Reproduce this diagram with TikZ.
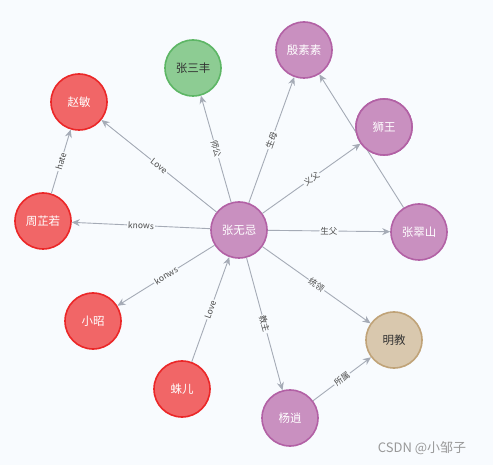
\documentclass[tikz,border=0pt]{standalone}
\usepackage{fontspec}
\setmainfont{Noto Sans CJK SC}
\usetikzlibrary{arrows.meta}
\definecolor{bg}{HTML}{F8FBFE}
\definecolor{edgec}{HTML}{A5ABB6}
\definecolor{purpf}{HTML}{C990C0}
\definecolor{purps}{HTML}{B261A5}
\definecolor{greenf}{HTML}{8DCC93}
\definecolor{greens}{HTML}{5DB665}
\definecolor{redf}{HTML}{F16667}
\definecolor{reds}{HTML}{EB2728}
\definecolor{tanf}{HTML}{D9C8AE}
\definecolor{tans}{HTML}{C0A378}
\tikzset{
  x=1pt,y=-1pt,
  ent/.style={circle,minimum size=56pt,inner sep=0pt,line width=1.6pt,font=\fontsize{11.5}{13}\selectfont},
  purp/.style={ent,fill=purpf,draw=purps,text=white},
  grn/.style={ent,fill=greenf,draw=greens,text=black!80},
  red/.style={ent,fill=redf,draw=reds,text=white},
  tan/.style={ent,fill=tanf,draw=tans,text=black!80},
  rel/.style={draw=edgec,line width=0.9pt,-{Stealth[length=8pt,width=7pt]}},
  lab/.style={fill=bg,inner sep=1pt,font=\fontsize{8.5}{9}\selectfont,text=black!70,sloped,midway}
}
\begin{document}
\begin{tikzpicture}
\fill[bg] (0,0) rectangle (493,465);
\useasboundingbox (0,0) rectangle (493,465);
\node[purp] (zwj) at (239,230) {张无忌};
\node[grn] (zsf) at (193,68) {张三丰};
\node[purp] (yss) at (304,50) {殷素素};
\node[purp] (sw) at (384,127) {狮王};
\node[purp] (zcs) at (419,232) {张翠山};
\node[tan] (mj) at (394,340) {明教};
\node[purp] (yx) at (290,418) {杨逍};
\node[red] (ze) at (182,389) {蛛儿};
\node[red] (xz) at (93,321) {小昭};
\node[red] (zzr) at (43,221) {周芷若};
\node[red] (zm) at (79,102) {赵敏};
\draw[rel] (zcs) -- (yss);
\draw[rel] (zwj) -- node[lab]{Love} (zm);
\draw[rel] (zwj) -- node[lab]{师公} (zsf);
\draw[rel] (zwj) -- node[lab]{生母} (yss);
\draw[rel] (zwj) -- node[lab]{义父} (sw);
\draw[rel] (zwj) -- node[lab]{生父} (zcs);
\draw[rel] (zwj) -- node[lab]{统领} (mj);
\draw[rel] (zwj) -- node[lab]{教主} (yx);
\draw[rel] (yx) -- node[lab]{所属} (mj);
\draw[rel] (zwj) -- node[lab]{knows} (zzr);
\draw[rel] (zwj) -- node[lab]{konws} (xz);
\draw[rel] (ze) -- node[lab]{Love} (zwj);
\draw[rel] (zzr) -- node[lab]{hate} (zm);
\node[purp] (sw2) at (sw) {狮王};
\node[font=\fontsize{13}{15}\selectfont,text=black!40,anchor=center] (wm) at (422,448) {CSDN @小邹子};
\end{tikzpicture}
\end{document}
